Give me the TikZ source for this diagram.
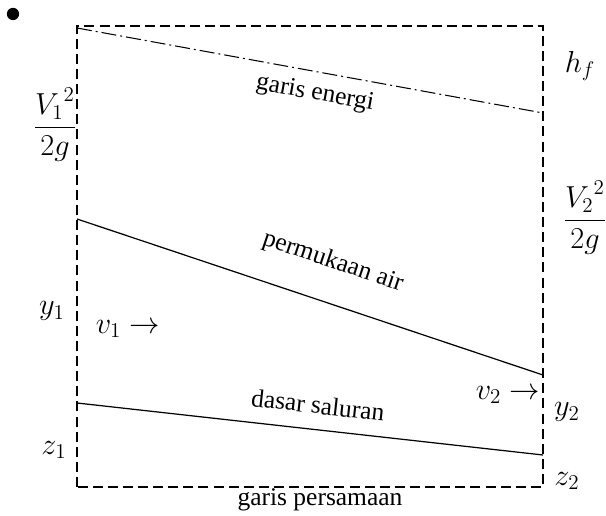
\documentclass[tikz,border=0pt]{standalone}
\usepackage{amsmath,amssymb}
\usepackage{fontspec}
\setmainfont{Liberation Serif}
\usepackage{tikz}
\usetikzlibrary{positioning,calc}

\tikzset{
  boxline/.style={line width=1.5pt,dash pattern=on 5.7pt off 2.9pt},
  energyline/.style={line width=0.6pt,dash pattern=on 8.5pt off 2.3pt on 1.1pt off 2.3pt},
  flowline/.style={line width=0.7pt},
  lbl/.style={inner sep=0pt,font=\fontsize{14.5}{17}\selectfont},
  mathlbl/.style={inner sep=0pt,font=\fontsize{17.5}{21}\selectfont}
}

\begin{document}
\begin{tikzpicture}[x=0.02cm,y=-0.02cm]
    \useasboundingbox (0,0) rectangle (606,516);
    % corners of the reach
    \coordinate (tl) at (77,26);
    \coordinate (tr) at (543,26);
    \coordinate (bl) at (77,487);
    \coordinate (br) at (543,487);
    % line ends on the two sections
    \coordinate (e1) at (77,28);
    \coordinate (e2) at (543,113);
    \coordinate (w1) at (77,219);
    \coordinate (w2) at (543,375);
    \coordinate (d1) at (77,403);
    \coordinate (d2) at (543,455);

    \draw[boxline] (bl) -- (tl) -- (tr) -- (br) -- cycle;
    \draw[energyline] (e1) -- (e2);
    \draw[flowline] (w1) -- (w2);
    \draw[flowline] (d1) -- (d2);

    \node[circle,fill,inner sep=0pt,minimum size=7pt] (bullet) at (13,14) {};

    \node[lbl,rotate=-10.3] (energi) at (315,94) {garis energi};
    \node[lbl,rotate=-18.5] (muka) at (333,262) {permukaan air};
    \node[lbl,rotate=-6.4] (dasar) at (318,405) {dasar saluran};
    \node[lbl] (persamaan) at (320,500) {garis persamaan};

    \node[mathlbl] (vh1) at (55,125) {$\dfrac{{V_1}^2}{2g}$};
    \node[mathlbl] (y1) at (52,311) {$y_1$};
    \node[mathlbl] (z1) at (54,450) {$z_1$};
    \node[mathlbl] (v1) at (128,329) {$v_1\rightarrow$};
    \node[mathlbl] (hf) at (580,66) {$h_f$};
    \node[mathlbl] (vh2) at (585,218) {$\dfrac{{V_2}^2}{2g}$};
    \node[mathlbl] (v2) at (508,395) {$v_2\rightarrow$};
    \node[mathlbl] (y2) at (567,412) {$y_2$};
    \node[mathlbl] (z2) at (567,481) {$z_2$};
\end{tikzpicture}
\end{document}
